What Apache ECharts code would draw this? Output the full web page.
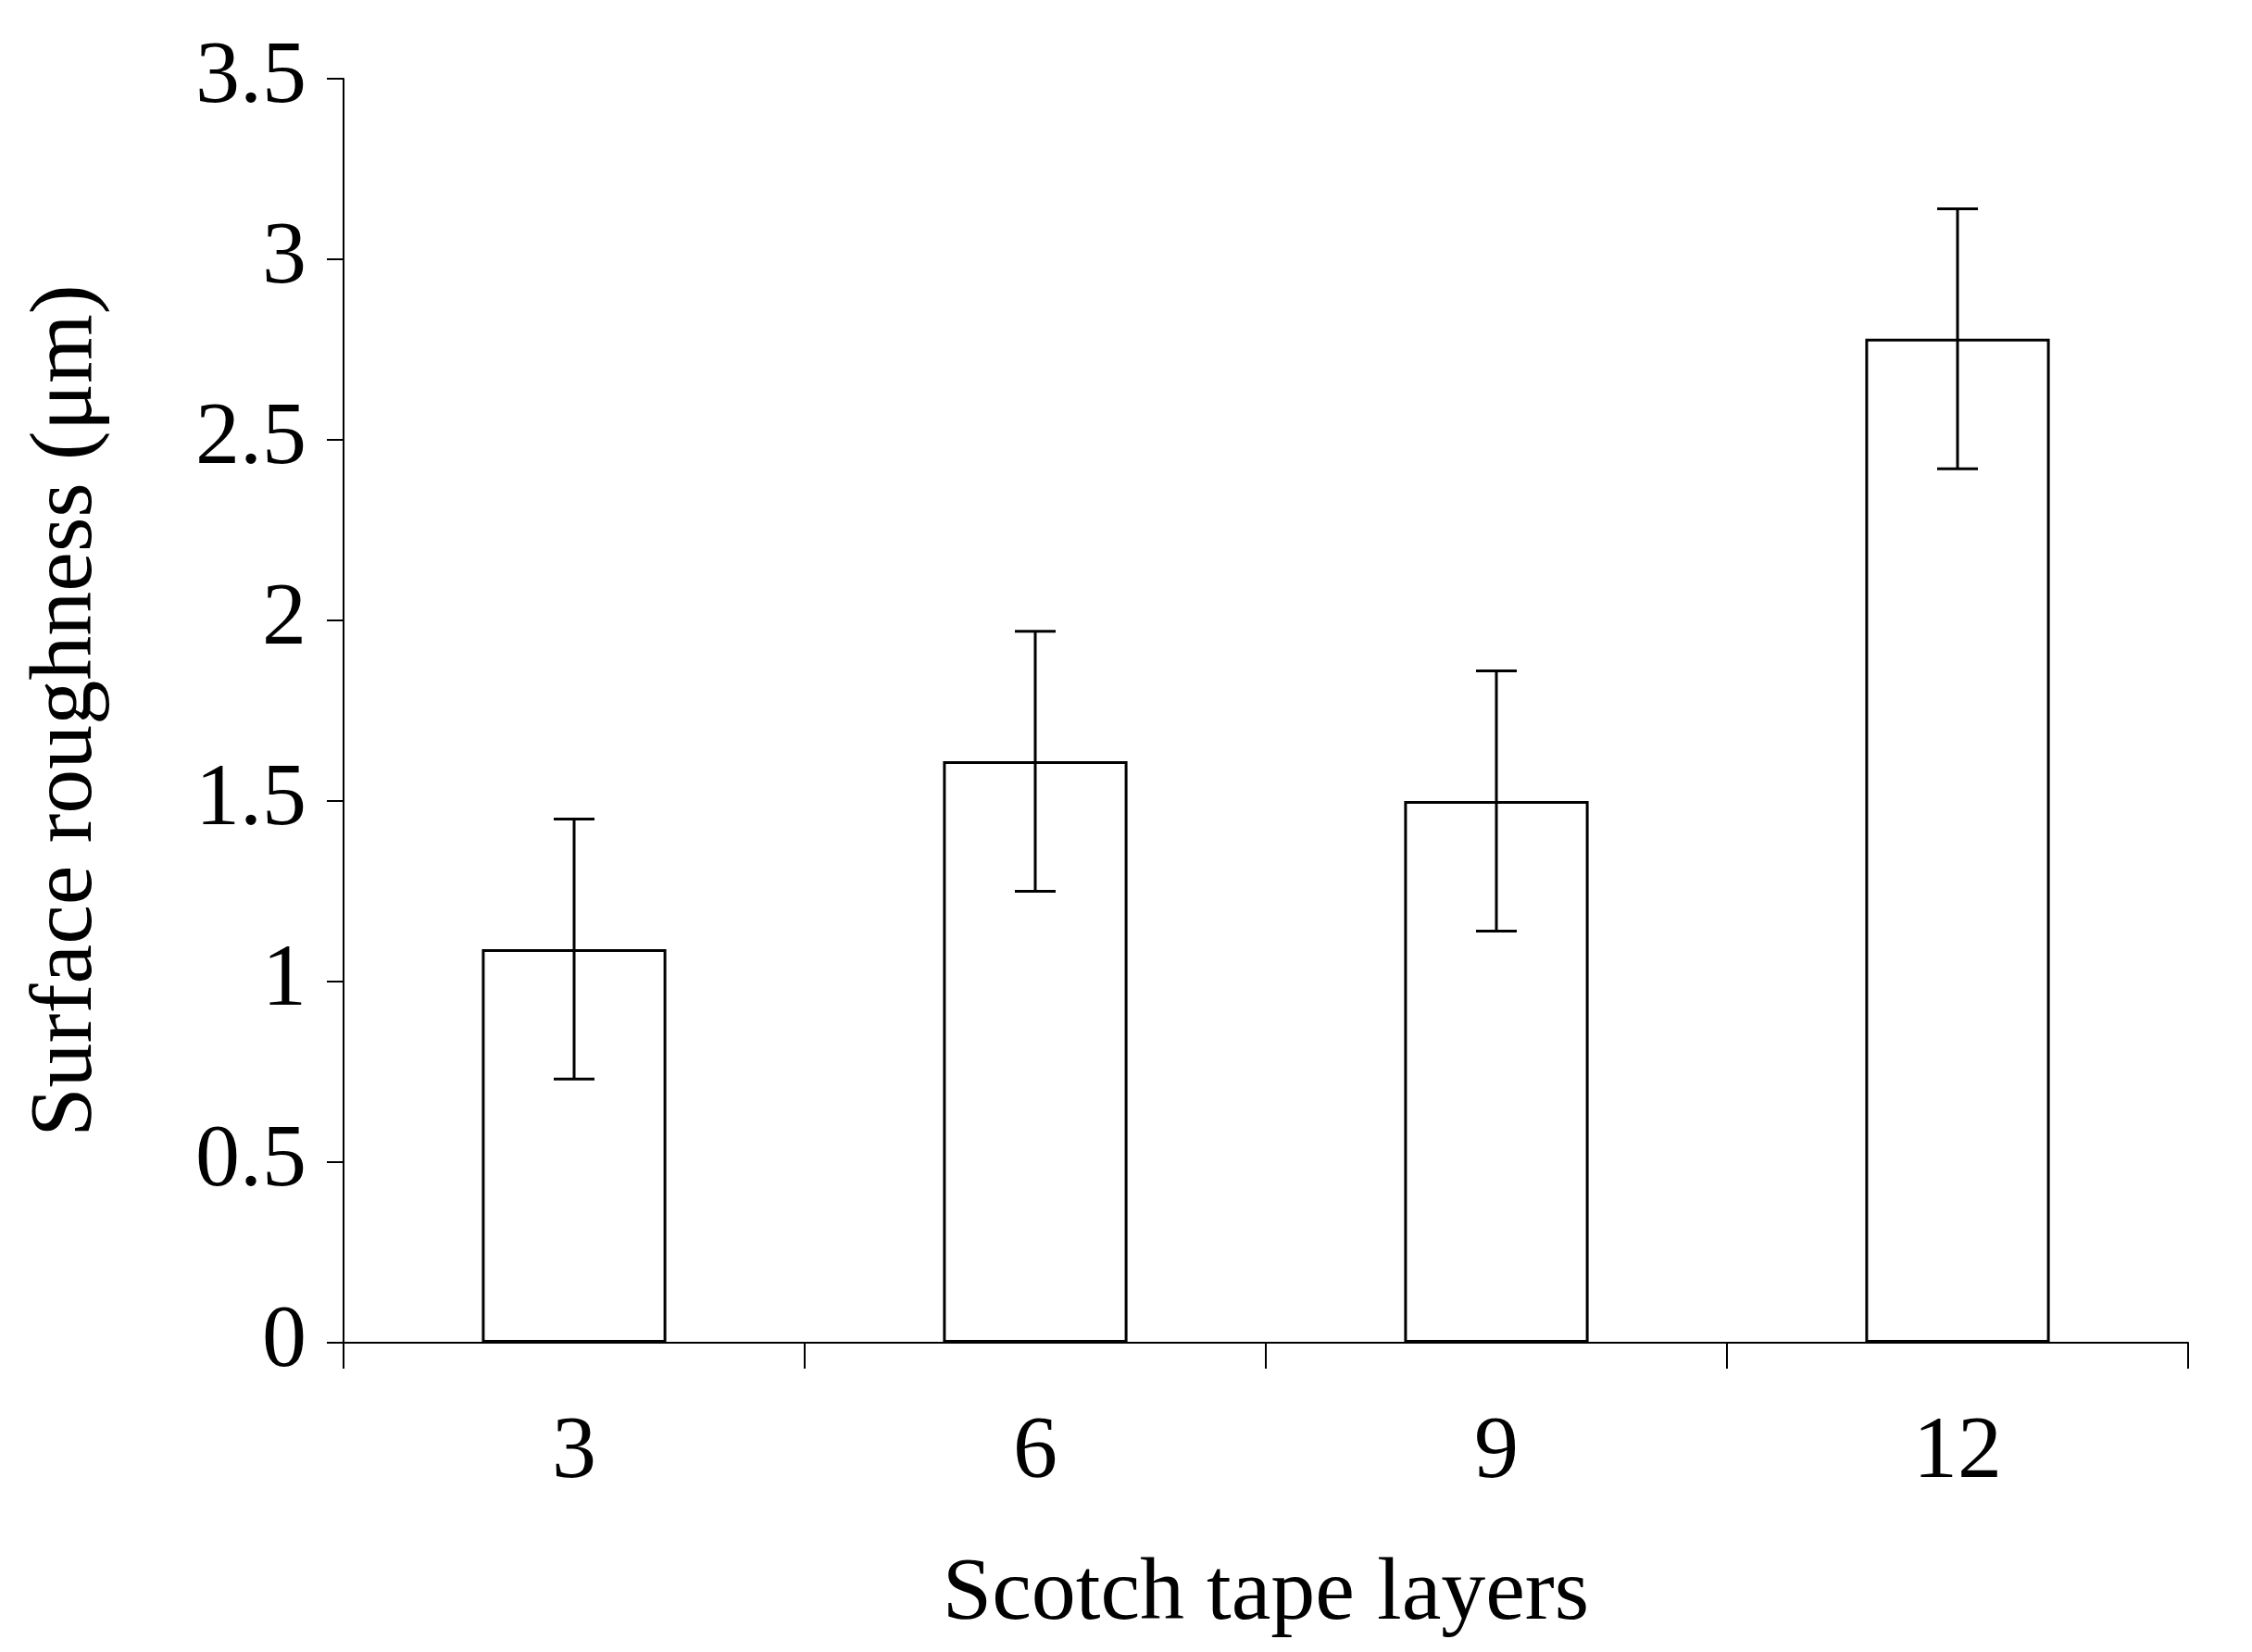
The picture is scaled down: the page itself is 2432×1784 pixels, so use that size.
<!DOCTYPE html>
<html>
<head>
<meta charset="utf-8">
<script src="https://cdn.jsdelivr.net/npm/echarts@6/dist/echarts.min.js"></script>
<style>html,body{margin:0;padding:0;background:#fff}#chart{width:2432px;height:1784px}</style>
</head>
<body>
<div id="chart"></div>
<script>
var categories = ['3', '6', '9', '12'];
var roughness = [1.09, 1.61, 1.50, 2.78];
var errLow = [0.73, 1.25, 1.14, 2.42];
var errHigh = [1.45, 1.97, 1.86, 3.14];

var font = 'Liberation Serif, Times New Roman, serif';
var chart = echarts.init(document.getElementById('chart'));
var errData = categories.map(function (c, i) { return [i, errLow[i], errHigh[i]]; });

chart.setOption({
    animation: false,
    grid: { left: 371, right: 69, top: 85, bottom: 334 },
    xAxis: {
        type: 'category',
        data: categories,
        name: 'Scotch tape layers',
        nameLocation: 'middle',
        nameGap: 225,
        nameTextStyle: { fontFamily: font, fontSize: 96, color: '#000' },
        axisLine: { lineStyle: { color: '#000', width: 2 } },
        axisTick: { show: true, length: 28, lineStyle: { color: '#000', width: 2 } },
        axisLabel: { fontFamily: font, fontSize: 96, color: '#000', margin: 72 }
    },
    yAxis: {
        type: 'value',
        min: 0, max: 3.5, interval: 0.5,
        name: 'Surface roughness (μm)',
        nameLocation: 'middle',
        nameGap: 250,
        nameTextStyle: { fontFamily: font, fontSize: 96, color: '#000' },
        splitLine: { show: false },
        axisLine: { show: true, lineStyle: { color: '#000', width: 2 } },
        axisTick: { show: true, length: 18, lineStyle: { color: '#000', width: 2 } },
        axisLabel: { fontFamily: font, fontSize: 96, color: '#000', margin: 40 }
    },
    series: [
        {
            type: 'bar',
            data: roughness,
            barWidth: '40%',
            itemStyle: { color: '#fff', borderColor: '#000', borderWidth: 3 }
        },
        {
            type: 'custom',
            data: errData,
            z: 10,
            renderItem: function (params, api) {
                var x = api.value(0);
                var lo = api.coord([x, api.value(1)]);
                var hi = api.coord([x, api.value(2)]);
                var w = 22;
                var st = { stroke: '#000', lineWidth: 3 };
                return {
                    type: 'group',
                    children: [
                        { type: 'line', shape: { x1: lo[0], y1: lo[1], x2: hi[0], y2: hi[1] }, style: st },
                        { type: 'line', shape: { x1: lo[0] - w, y1: lo[1], x2: lo[0] + w, y2: lo[1] }, style: st },
                        { type: 'line', shape: { x1: hi[0] - w, y1: hi[1], x2: hi[0] + w, y2: hi[1] }, style: st }
                    ]
                };
            }
        }
    ]
});
</script>
</body>
</html>
